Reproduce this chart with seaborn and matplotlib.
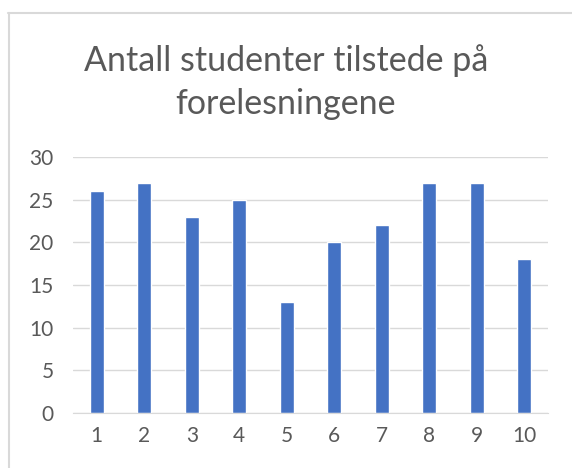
import numpy as np
import pandas as pd
import matplotlib.pyplot as plt
import seaborn as sns

# Data
forelesning = ['1', '2', '3', '4', '5', '6', '7', '8', '9', '10']
antall = [26, 27, 23, 25, 13, 20, 22, 27, 27, 18]
y_ticks = [0, 5, 10, 15, 20, 25, 30]

df = pd.DataFrame({'forelesning': forelesning, 'antall': antall})

sns.set_style('white')
plt.rcParams['font.family'] = ['Lato', 'DejaVu Sans']

W, H = 572, 468
fig = plt.figure(figsize=(W / 100, H / 100), dpi=100)
ax = fig.add_axes([73 / W, 1 - 413 / H, 475 / W, 256 / H])

sns.barplot(data=df, x='forelesning', y='antall', color='#4472C4',
            width=0.3, saturation=1, ax=ax)

ax.set_ylim(0, 30)
ax.set_yticks(y_ticks)
ax.yaxis.grid(True, color='#D9D9D9', linewidth=1)
ax.set_axisbelow(True)
for side in ['top', 'right', 'left']:
    ax.spines[side].set_visible(False)
ax.spines['bottom'].set_color('#D9D9D9')
ax.tick_params(axis='both', length=0, labelsize=15, colors='#595959')
ax.tick_params(axis='y', pad=14)
ax.tick_params(axis='x', pad=9)
ax.set_xlabel('')
ax.set_ylabel('')

fig.text(0.5, 1 - 82 / H, 'Antall studenter tilstede på\nforelesningene',
         ha='center', va='center', fontsize=24.5, color='#595959',
         linespacing=1.4)

# Chart area border (only top and left visible in the crop)
fig.add_artist(plt.Line2D([8 / W, 1], [1 - 12.5 / H, 1 - 12.5 / H],
                          color='#D9D9D9', linewidth=1.5,
                          transform=fig.transFigure))
fig.add_artist(plt.Line2D([8.5 / W, 8.5 / W], [0, 1 - 12.5 / H],
                          color='#D9D9D9', linewidth=1.5,
                          transform=fig.transFigure))

plt.savefig('out.png', dpi=100)
